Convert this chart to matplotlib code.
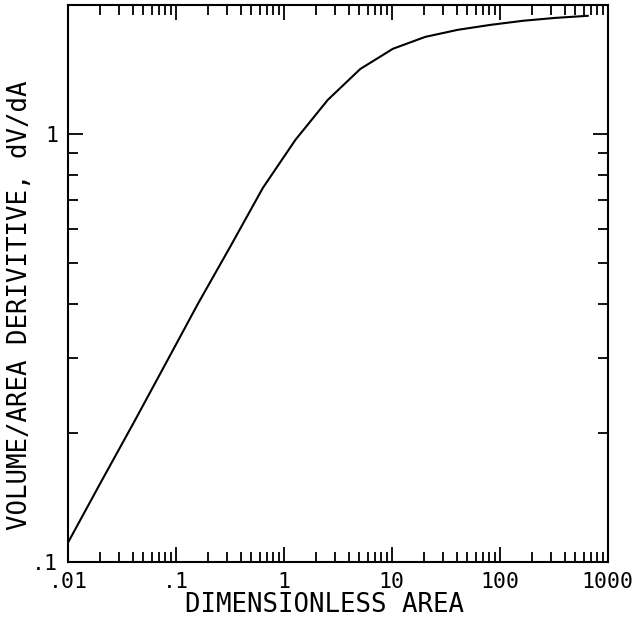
import matplotlib
matplotlib.use("Agg")
import matplotlib.pyplot as plt
from matplotlib.ticker import FixedLocator, LogLocator, NullFormatter, FixedFormatter

# dimensionless area (doubling steps) and dV/dA
area = [0.01, 0.02, 0.04, 0.08, 0.16, 0.32, 0.64, 1.28, 2.56, 5.12,
        10.24, 20.48, 40.96, 81.92, 163.84, 327.68, 655.36]
dvda = [0.111, 0.153, 0.210, 0.290, 0.401, 0.546, 0.748, 0.968, 1.201,
        1.418, 1.580, 1.685, 1.750, 1.797, 1.837, 1.866, 1.887]

x_major = [0.01, 0.1, 1, 10, 100, 1000]
x_labels = [".01", ".1", "1", "10", "100", "1000"]
y_major = [0.1, 1]
y_labels = [".1", "1"]
y_minor = [0.2, 0.3, 0.4, 0.5, 0.6, 0.7, 0.8, 0.9]

plt.rcParams["font.family"] = ["DejaVu Sans Mono"]

fig = plt.figure(figsize=(6.35, 6.19), dpi=100)
ax = fig.add_axes([68 / 635, 1 - 562 / 619, 539.5 / 635, 557 / 619])

ax.plot(area, dvda, "-", color="black", lw=1.5)
ax.set_xscale("log")
ax.set_yscale("log")
ax.set_xlim(0.01, 1000)
ax.set_ylim(0.1, 2.0)

ax.xaxis.set_major_locator(FixedLocator(x_major))
ax.xaxis.set_major_formatter(FixedFormatter(x_labels))
ax.xaxis.set_minor_locator(LogLocator(base=10, subs=range(2, 10), numticks=20))
ax.xaxis.set_minor_formatter(NullFormatter())
ax.yaxis.set_major_locator(FixedLocator(y_major))
ax.yaxis.set_major_formatter(FixedFormatter(y_labels))
ax.yaxis.set_minor_locator(FixedLocator(y_minor))
ax.yaxis.set_minor_formatter(NullFormatter())

ax.tick_params(which="both", direction="in", top=True, right=True,
               labelsize=15.5, pad=7, color="black")
ax.tick_params(which="major", length=11, width=1.3)
ax.tick_params(which="minor", length=7.5, width=1.3)
for s in ax.spines.values():
    s.set_linewidth(1.5)

fig.text(324.5 / 635, (619 - 612) / 619, "DIMENSIONLESS AREA", fontsize=18.5,
         ha="center", va="baseline")
fig.text(27 / 635, (619 - 305.5) / 619, "VOLUME/AREA DERIVITIVE, dV/dA",
         fontsize=18.5, rotation=90, rotation_mode="anchor",
         ha="center", va="baseline")

fig.savefig("out.png", dpi=100)
